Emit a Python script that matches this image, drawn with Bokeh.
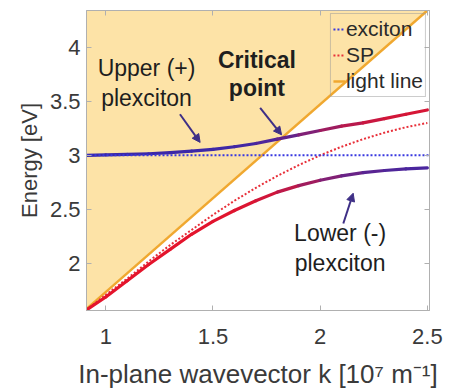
from bokeh.plotting import figure
from bokeh.models import Legend, LegendItem, LinearAxis, FixedTicker, Arrow, NormalHead, Label
from bokeh.embed import file_html
from bokeh.resources import INLINE

# ---- data ----
k = [0.91, 1.0, 1.1, 1.2, 1.3, 1.4, 1.5, 1.6, 1.7, 1.8, 1.9, 2.0, 2.1, 2.2, 2.3, 2.4, 2.5]
sp = [1.57, 1.71, 1.86, 2.02, 2.17, 2.31, 2.45, 2.58, 2.70, 2.81, 2.91, 3.00, 3.08, 3.15, 3.21, 3.26, 3.30]
lower = [1.57, 1.69, 1.84, 1.99, 2.13, 2.27, 2.39, 2.49, 2.58, 2.66, 2.72, 2.77, 2.81, 2.84, 2.86, 2.875, 2.885]
upper = [3.00, 3.005, 3.01, 3.015, 3.025, 3.04, 3.055, 3.08, 3.11, 3.15, 3.19, 3.23, 3.27, 3.30, 3.34, 3.38, 3.42]
exciton_E = 3.0
light_k = [0.91, 2.5]
light_E = [1.58, 4.34]
x_ticks = [1, 1.5, 2, 2.5]
y_ticks = [2, 2.5, 3, 3.5, 4]
x_lim = (0.91, 2.51)
y_lim = (1.565, 4.34)

FONT = "Liberation Sans"
TICK_FS = "22px"
ANN_FS = "23px"

p = figure(width=454, height=392, x_range=x_lim, y_range=y_lim,
           output_backend="svg", toolbar_location=None,
           min_border_left=86, min_border_right=25, min_border_top=10, min_border_bottom=82)
p.background_fill_color = "white"
p.border_fill_color = "white"
p.outline_line_color = "#b0b0b0"
p.grid.visible = False

# shaded region above light line
p.varea(x=light_k, y1=light_E, y2=[y_lim[1]] * len(light_k), fill_color="#fde3a7", fill_alpha=1.0)

r_light = p.line(light_k, light_E, line_color="#f0a830", line_width=2.5)
r_sp = p.line(k, sp, line_color="#e8303a", line_width=2, line_dash="2 2")

# gradient-coloured plexciton curves
blue = (60, 40, 168)
red = (228, 20, 44)

def seg_colors(E):
    cols = []
    for i in range(len(E) - 1):
        e = 0.5 * (E[i] + E[i + 1])
        s = 0.5 * (sp[i] + sp[i + 1])
        dx = abs(e - exciton_E)
        ds = abs(e - s)
        w = dx / (dx + ds) if (dx + ds) > 0 else 0.0
        w = w * w / (w * w + (1 - w) * (1 - w))
        c = tuple(int(round(blue[j] * (1 - w) + red[j] * w)) for j in range(3))
        cols.append("#%02x%02x%02x" % c)
    return cols

for E in (upper, lower):
    p.segment(x0=k[:-1], y0=E[:-1], x1=k[1:], y1=E[1:], line_color=seg_colors(E),
              line_width=3.2, line_cap="round")

r_exc = p.line([x_lim[0], x_lim[1]], [exciton_E, exciton_E], line_color="#3838e0",
               line_width=2, line_dash="2 2")

# arrows
arrow_color = "#3e2f86"
arrows = [((1.346, 3.38), (1.44, 3.12)),
          ((1.72, 3.44), (1.82, 3.19)),
          ((2.108, 2.37), (2.154, 2.65))]
for (s, e) in arrows:
    p.add_layout(Arrow(end=NormalHead(size=8, fill_color=arrow_color, line_color=arrow_color),
                       x_start=s[0], y_start=s[1], x_end=e[0], y_end=e[1],
                       line_color=arrow_color, line_width=2))

# annotations
ann = [("Upper (+)", 1.19, 3.81, "normal"), ("plexciton", 1.19, 3.53, "normal"),
       ("Critical", 1.705, 3.88, "bold"), ("point", 1.705, 3.62, "bold"),
       ("Lower (-)", 2.093, 2.28, "normal"), ("plexciton", 2.093, 2.0, "normal")]
for t, x, y, fw in ann:
    p.add_layout(Label(x=x, y=y, text=t, text_align="center", text_baseline="middle",
                       text_font=FONT, text_font_size=ANN_FS, text_font_style=fw,
                       text_color="#1e1e1e"))

# axes
for ax in (p.xaxis[0], p.yaxis[0]):
    ax.major_tick_in = 5
    ax.major_tick_out = 0
    ax.minor_tick_line_color = None
    ax.axis_line_color = "#b0b0b0"
    ax.major_tick_line_color = "#b0b0b0"
    ax.major_label_text_font = FONT
    ax.major_label_text_font_size = TICK_FS
    ax.major_label_text_color = "#3a3a3a"
    ax.axis_label_text_font = FONT
    ax.axis_label_text_font_style = "normal"
    ax.axis_label_text_color = "#3a3a3a"

p.xaxis[0].ticker = FixedTicker(ticks=x_ticks)
p.yaxis[0].ticker = FixedTicker(ticks=y_ticks)
p.xaxis[0].major_label_overrides = {1: "1", 1.5: "1.5", 2: "2", 2.5: "2.5"}
p.yaxis[0].major_label_overrides = {2: "2", 2.5: "2.5", 3: "3", 3.5: "3.5", 4: "4"}
p.xaxis[0].axis_label = "In-plane wavevector k [10\u2077 m\u207b\u00b9]"
p.yaxis[0].axis_label = "Energy [eV]"
p.xaxis[0].axis_label_text_font_size = "26px"
p.yaxis[0].axis_label_text_font_size = "22px"
p.xaxis[0].major_label_standoff = 18
p.xaxis[0].axis_label_standoff = 12
p.yaxis[0].major_label_standoff = 6
p.yaxis[0].axis_label_standoff = 5

for loc, tk in (("right", y_ticks), ("above", x_ticks)):
    ax = LinearAxis(ticker=FixedTicker(ticks=tk))
    ax.major_tick_in = 5
    ax.major_tick_out = 0
    ax.minor_tick_line_color = None
    ax.axis_line_color = "#b0b0b0"
    ax.major_tick_line_color = "#b0b0b0"
    ax.major_label_overrides = {t: "" for t in tk}
    ax.major_label_standoff = 0
    p.add_layout(ax, loc)

legend = Legend(items=[LegendItem(label="exciton", renderers=[r_exc]),
                       LegendItem(label="SP", renderers=[r_sp]),
                       LegendItem(label="light line", renderers=[r_light])],
                location="top_right")
legend.background_fill_alpha = 0.0
legend.border_line_color = "#9a9a9a"
legend.label_text_font = FONT
legend.label_text_font_size = "21px"
legend.label_text_color = "#2a2a2a"
legend.glyph_width = 12
legend.label_standoff = 1
legend.spacing = 0
legend.padding = 2
legend.margin = 3
legend.label_height = 26
legend.glyph_height = 26
p.add_layout(legend)

open("out.html", "w").write(file_html(p, INLINE))
